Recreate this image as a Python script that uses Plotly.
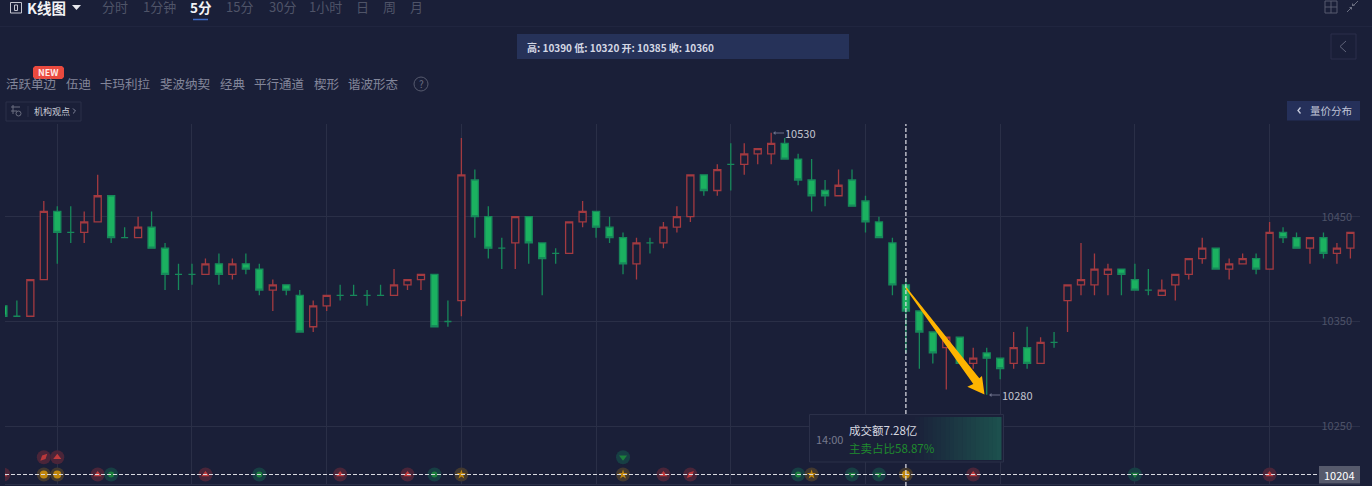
import plotly.graph_objects as go

# ---------- data ----------
opens = [10365,10355,10355,10390,10455,10435,10435,10445,10470,10430,10430,10440,10420,10395,10395,10395,10405,10395,10405,10400,
         10380,10385,10375,10345,10365,10375,10375,10375,10375,10375,10385,10390,10395,10350,10370,10485,10450,10420,10425,10450,
         10425,10415,10415,10445,10455,10440,10430,10405,10425,10425,10440,10450,10490,10475,10500,10500,10510,10510,10520,10505,
         10485,10475,10470,10485,10465,10445,10425,10385,10360,10340,10325,10335,10310,10320,10315,10310,10325,10310,10330,10370,
         10385,10385,10395,10400,10390,10380,10375,10385,10395,10410,10420,10400,10405,10410,10400,10435,10430,10420,10430,10415,10420]
highs = [10365,10370,10390,10465,10460,10460,10455,10490,10470,10440,10450,10455,10425,10405,10405,10410,10415,10410,10415,10405,
         10390,10385,10380,10370,10375,10385,10385,10380,10385,10400,10390,10395,10395,10370,10525,10495,10460,10430,10450,10450,
         10425,10420,10445,10465,10455,10450,10435,10430,10430,10445,10460,10490,10490,10500,10520,10520,10515,10530,10525,10510,
         10505,10485,10495,10495,10470,10450,10430,10390,10360,10340,10335,10335,10325,10325,10315,10340,10345,10335,10340,10385,
         10425,10415,10405,10400,10405,10400,10390,10395,10410,10430,10420,10410,10415,10415,10445,10440,10435,10430,10435,10425,10435]
lows = [10355,10355,10355,10390,10405,10425,10425,10445,10425,10430,10430,10420,10380,10380,10385,10395,10385,10390,10395,10375,
        10360,10375,10340,10340,10360,10370,10375,10365,10375,10375,10380,10380,10345,10345,10355,10430,10410,10400,10400,10405,
        10375,10405,10415,10440,10430,10425,10395,10390,10415,10420,10435,10445,10470,10470,10475,10490,10500,10500,10505,10480,
        10455,10460,10470,10460,10435,10430,10375,10320,10305,10310,10285,10310,10305,10280,10295,10305,10305,10310,10325,10340,
        10375,10375,10375,10375,10380,10375,10375,10370,10390,10405,10400,10390,10405,10395,10400,10425,10420,10405,10410,10405,10410]
closes = [10355,10355,10390,10455,10435,10435,10445,10470,10430,10430,10440,10420,10395,10395,10395,10405,10395,10405,10400,10380,
          10385,10380,10340,10365,10375,10375,10375,10375,10375,10385,10390,10395,10345,10350,10490,10450,10420,10420,10450,10425,
          10410,10415,10445,10455,10440,10430,10405,10425,10425,10440,10450,10490,10475,10495,10500,10510,10515,10520,10505,10485,
          10470,10470,10480,10460,10445,10430,10385,10360,10340,10320,10335,10310,10315,10315,10305,10325,10310,10330,10330,10385,
          10390,10400,10400,10395,10380,10380,10380,10395,10410,10420,10400,10405,10410,10400,10435,10430,10420,10430,10415,10420,10435]

x_ticks = [4, 14, 24, 34, 44, 54, 64, 74, 84, 94]
y_ticks = [10250, 10350, 10450]
last_price = 10204
high_mark = (57, 10530)
low_mark = (73, 10280)
cross_index = 67

tabs = ["分时", "1分钟", "5分", "15分", "30分", "1小时", "日", "周", "月"]
tab_centers = [115, 159, 201, 239, 282, 325, 362, 389, 416]
patterns = ["活跃单边", "伍迪", "卡玛利拉", "斐波纳契", "经典", "平行通道", "楔形", "谐波形态"]
pattern_left = [6, 66, 100, 160, 220, 254, 314, 348]
ohlc_text = "高: 10390 低: 10320 开: 10385 收: 10360"

# event markers along the bottom: index, kind
ev_low_x = [0, 3, 4, 7, 8, 15, 19, 25, 30, 32, 34, 46, 49, 51, 59, 60, 63, 65, 67, 72, 84, 94]
ev_low_k = ["rt", "gc", "gc", "rt", "go", "rt", "go", "rt", "rt", "go", "gs", "gs", "rt", "rd", "go", "gs", "gd", "gd", "gc", "rt", "gd", "rt"]
ev_up_x = [3, 4, 46]
ev_up_k = ["rd", "rt", "gd"]
ev_up_y = 10220.5

# ---------- style ----------
BG = "#1a1f38"
GRID = "#2a2f47"
FONT = "Noto Sans CJK SC"
RED_LINE = "#a33a40"
GREEN_LINE = "#17885a"
GREEN_FILL = "#1bb160"
L, R, T, B = 5, 1360, 124, 484
xr = [(L - 3.4) / 13.47, (R - 3.4) / 13.47]
yr = [10450 - (B - 216.7) / 1.048, 10450 + (216.7 - T) / 1.048]
px = lambda v: (v - L) / (R - L)
py = lambda v: (B - v) / (B - T)

fig = go.Figure()

def candle(idx, color, fill):
    side = dict(line=dict(color=color, width=1.3), fillcolor=fill)
    fig.add_trace(go.Candlestick(
        x=idx,
        open=[opens[i] for i in idx], high=[highs[i] for i in idx],
        low=[lows[i] for i in idx], close=[closes[i] for i in idx],
        increasing=side, decreasing=side, whiskerwidth=0, showlegend=False, hoverinfo="skip"))

n = len(opens)
candle([i for i in range(n) if closes[i] > opens[i]], RED_LINE, BG)
candle([i for i in range(n) if closes[i] <= opens[i]], GREEN_LINE, GREEN_FILL)

# event markers
styles = {
    "rt": ("#f2443e", "triangle-up", "#4a2539", 0, 7),
    "rd": ("#e8403c", "diamond-tall", "#4a2539", 45, 7),
    "go": ("#1f9d3a", "circle", "#173f44", 0, 6),
    "gd": ("#1f9d3a", "triangle-down", "#173f44", 0, 7),
    "gs": ("#f5a800", "star", "#43392f", 0, 7),
    "gc": ("#f5a800", "circle", "#43392f", 0, 8),
}
def events(xs, kinds, y):
    fig.add_trace(go.Scatter(x=xs, y=[y] * len(xs), mode="markers", hoverinfo="skip", showlegend=False, cliponaxis=True,
                             marker=dict(size=14, color=[styles[k][2] for k in kinds], line=dict(width=0))))
    fig.add_trace(go.Scatter(x=xs, y=[y] * len(xs), mode="markers", hoverinfo="skip", showlegend=False, cliponaxis=True,
                             marker=dict(size=[styles[k][4] for k in kinds], color=[styles[k][0] for k in kinds],
                                         symbol=[styles[k][1] for k in kinds], angle=[styles[k][3] for k in kinds],
                                         line=dict(width=0))))
events(ev_low_x, ev_low_k, last_price)
events(ev_up_x, ev_up_k, ev_up_y)

shapes, ann = [], []

def rect(x0, y0, x1, y1, fill=None, line=None, w=1):
    shapes.append(dict(type="rect", xref="paper", yref="paper", x0=px(x0), x1=px(x1), y0=py(y0), y1=py(y1),
                       fillcolor=fill or "rgba(0,0,0,0)", line=dict(color=line or "rgba(0,0,0,0)", width=w if line else 0)))
def seg(x0, y0, x1, y1, color, w=1, dash=None):
    shapes.append(dict(type="line", xref="paper", yref="paper", x0=px(x0), x1=px(x1), y0=py(y0), y1=py(y1),
                       line=dict(color=color, width=w, dash=dash)))
def path(pts, fill=None, line=None, w=1):
    d = "M " + " L ".join(f"{px(a):.5f},{py(b):.5f}" for a, b in pts) + (" Z" if fill else "")
    shapes.append(dict(type="path", xref="paper", yref="paper", path=d, fillcolor=fill or "rgba(0,0,0,0)",
                       line=dict(color=line or "rgba(0,0,0,0)", width=w if line else 0)))
def txt(x, y, s, size, color, anchor="left", bold=False):
    ann.append(dict(xref="paper", yref="paper", x=px(x), y=py(y), text=f"<b>{s}</b>" if bold else s, showarrow=False,
                    xanchor=anchor, yanchor="middle", font=dict(family=FONT, size=size, color=color), borderpad=0, borderwidth=0))

# crosshair + last price line
shapes.append(dict(type="line", xref="x", yref="paper", x0=cross_index, x1=cross_index, y0=py(486), y1=1,
                   line=dict(color="#e0e1e8", width=1.2, dash="4px,2px")))
shapes.append(dict(type="line", xref="paper", yref="y", x0=0, x1=px(1319), y0=last_price, y1=last_price,
                   line=dict(color="#d8d9e0", width=1.2, dash="4px,2px")))

# yellow arrow
path([(905.6, 288.4), (906.6, 287.6), (979.3, 378.3), (982, 376), (984.5, 394.5), (967.3, 386.7), (973.3, 384)], fill="#ffb400")

# tooltip with stepped gradient
rect(809.5, 414.5, 1003.5, 462, fill="#1b2039", line="#2b3049")
steps = 20
for i in range(steps):
    a = (i + 1) / steps
    r0, g0, b0 = 0x1b, 0x20, 0x39
    r1, g1, b1 = 0x1d, 0x50, 0x4e
    c = f"rgb({int(r0+(r1-r0)*a)},{int(g0+(g1-g0)*a)},{int(b0+(b1-b0)*a)})"
    rect(915 + i * 86 / steps, 417, 915 + (i + 1) * 86 / steps + .5, 460, fill=c)
txt(816, 439, "14:00", 11, "#767a8e")
txt(849, 430, "成交额7.28亿", 11.5, "#d8d9e0")
txt(849, 448, "主卖占比58.87%", 11.5, "#1f8a2e")

# extreme labels
seg(774, 133, 784, 133, "#6b6f88")
path([(773, 133), (775.5, 131), (775.5, 135)], fill="#6b6f88")
seg(990, 395, 1000, 395, "#6b6f88")
path([(989, 395), (991.5, 393), (991.5, 397)], fill="#6b6f88")
ann.append(dict(x=high_mark[0], y=high_mark[1], xref="x", yref="y", text=str(high_mark[1]), showarrow=False, xanchor="left",
                xshift=12, yanchor="middle", font=dict(family=FONT, size=11, color="#c2c4cf")))
ann.append(dict(x=low_mark[0], y=low_mark[1], xref="x", yref="y", text=str(low_mark[1]), showarrow=False, xanchor="left",
                xshift=13, yanchor="middle", font=dict(family=FONT, size=11, color="#c2c4cf")))

# last price badge
rect(1319, 466, 1360, 483.5, fill="#565a6c")
txt(1339.5, 474.5, str(last_price), 11, "#ffffff", anchor="center")

# top bar
seg(0, 26.5, 1372, 26.5, "#20253f")
rect(10.5, 2.5, 21.5, 13, line="#c4c5cf")
rect(14.5, 5, 17.5, 10.5, line="#c4c5cf")
txt(27, 7, "K线图", 14.5, "#f2f2f5", bold=True)
path([(72, 5), (81, 5), (76.5, 10)], fill="#e8e8ee")
for s, c in zip(tabs, tab_centers):
    on = s == "5分"
    txt(c, 6.5, s, 13.5 if on else 13, "#f2f2f5" if on else "#4f5468", anchor="center", bold=on)
seg(193, 19.5, 208, 19.5, "#3f6bc4", 1.5)
rect(1325, 1, 1337, 13, line="#565a6e")
seg(1331, 1, 1331, 13, "#565a6e")
seg(1325, 7, 1337, 7, "#565a6e")
seg(1347, 12, 1351, 8, "#6a6e80")
seg(1353, 6, 1358, 1, "#6a6e80")
path([(1349, 7), (1352, 7), (1352, 10)], fill="#6a6e80")
path([(1352, 3), (1352, 6), (1355, 6)], fill="#6a6e80")

# OHLC strip
rect(517, 34, 849, 59, fill="#263259")
txt(527, 47, ohlc_text, 10, "#d4d7e4", bold=True)

# collapse button
rect(1331, 34, 1356, 59, line="#2a2f4a")
path([(1346, 41), (1340, 46.5), (1346, 52)], line="#60647a")

# pattern tabs
for s, x0 in zip(patterns, pattern_left):
    txt(x0, 84, s, 12.5, "#83869a")
shapes.append(dict(type="circle", xref="paper", yref="paper", x0=px(414), x1=px(428), y0=py(77), y1=py(91),
                   line=dict(color="#565a6e", width=1), fillcolor="rgba(0,0,0,0)"))
txt(421, 84, "?", 10, "#6a6e82", anchor="center")
shapes.append(dict(type="path", xref="paper", yref="paper", fillcolor="#ea4a3f", line=dict(width=0),
                   path="M " + " L ".join(f"{px(a):.5f},{py(b):.5f}" for a, b in
                        [(35, 66), (62, 66), (64, 68), (64, 77), (62, 79), (35, 79), (33, 77), (33, 68)]) + " Z"))
txt(48.5, 72.5, "NEW", 9, "#ffe9e6", anchor="center", bold=True)

# institution view tag
rect(6, 102, 81, 121, line="#2b3049")
seg(28, 106, 28, 117, "#2b3049")
seg(11, 107, 20, 107, "#6a6e80")
seg(13, 105, 13, 114, "#6a6e80")
seg(11, 111, 17, 111, "#6a6e80")
shapes.append(dict(type="circle", xref="paper", yref="paper", x0=px(16), x1=px(21), y0=py(111), y1=py(116),
                   line=dict(color="#6a6e80", width=1), fillcolor="rgba(0,0,0,0)"))
txt(34, 111.5, "机构观点", 9, "#c9cbd6")
path([(73, 108.5), (75.5, 111), (73, 113.5)], line="#80849a")

# volume profile button
rect(1287, 101, 1360, 120.5, fill="#25305a")
path([(1300.5, 107.5), (1298, 110.5), (1300.5, 113.5)], line="#c4c8da", w=1.3)
txt(1310, 111, "量价分布", 10.5, "#c0c5d8")

fig.update_layout(
    width=1372, height=486, margin=dict(l=L, r=1372 - R, t=T, b=486 - B),
    paper_bgcolor=BG, plot_bgcolor=BG, showlegend=False, hovermode=False, boxgap=0.25,
    font=dict(family=FONT), shapes=shapes, annotations=ann,
    xaxis=dict(range=xr, rangeslider=dict(visible=False), tickmode="array", tickvals=x_ticks, showticklabels=False,
               ticks="", gridcolor=GRID, gridwidth=1, zeroline=False, showline=True, linecolor=GRID, fixedrange=True),
    yaxis=dict(range=yr, side="right", tickmode="array", tickvals=y_ticks, tickformat="d", ticklabelposition="inside", ticks="",
               ticklabelstandoff=5, gridcolor=GRID, gridwidth=1, zeroline=False, showline=False, fixedrange=True,
               tickfont=dict(family=FONT, size=11, color="#4d5268")),
)
fig.write_html("out.html", config=dict(displayModeBar=False),
               post_script="document.body.style.margin='0';document.body.style.overflow='hidden';")
